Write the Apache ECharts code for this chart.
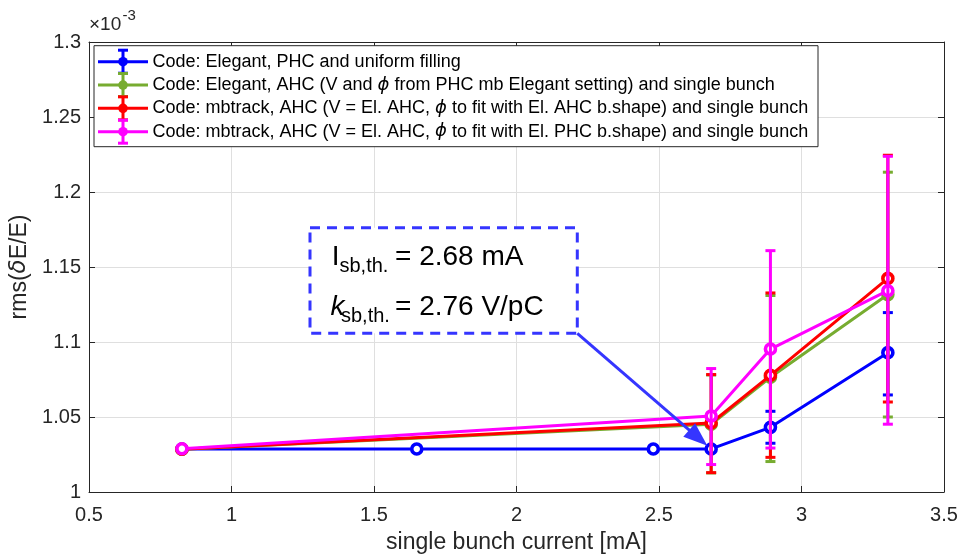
<!DOCTYPE html>
<html>
<head>
<meta charset="utf-8">
<script src="https://cdn.jsdelivr.net/npm/echarts@6/dist/echarts.min.js"></script>
<style>html,body{margin:0;padding:0;background:#fff}#c{width:966px;height:559px}</style>
</head>
<body>
<div id="c"></div>
<script>
// ---- data ----
const xTickLabels = ['0.5', '1', '1.5', '2', '2.5', '3', '3.5'];
const yTickLabels = ['1', '1.05', '1.1', '1.15', '1.2', '1.25', '1.3'];

const blueX = [0.826, 1.65, 2.48, 2.683, 2.891, 3.303];
const blueY = [1.0287, 1.0287, 1.0287, 1.0287, 1.0431, 1.0929];
const blueLow = [null, null, null, null, 1.0325, 1.0647];
const blueHigh = [null, null, null, null, 1.0538, 1.1196];

const otherX = [0.826, 2.683, 2.891, 3.303];
const greenY = [1.0285, 1.0452, 1.0765, 1.1316];
const greenLow = [null, 1.0127, 1.0203, 1.0500];
const greenHigh = [null, 1.0780, 1.1310, 1.2132];

const redY = [1.0285, 1.0460, 1.0778, 1.1424];
const redLow = [null, 1.0129, 1.0231, 1.0600];
const redHigh = [null, 1.0783, 1.1327, 1.2245];

const magentaY = [1.0288, 1.0507, 1.0953, 1.1342];
const magentaLow = [null, 1.0183, 1.0293, 1.0452];
const magentaHigh = [null, 1.0823, 1.1609, 1.2238];

const seriesNames = [
  'Code: Elegant, PHC and uniform filling',
  'Code: Elegant, AHC (V and ϕ from PHC mb Elegant setting) and single bunch',
  'Code: mbtrack, AHC (V = El. AHC, ϕ to fit with El. AHC b.shape) and single bunch',
  'Code: mbtrack, AHC (V = El. AHC, ϕ to fit with El. PHC b.shape) and single bunch'
];
const thresholdCurrent = 2.68;
const thresholdK = 2.76;

// ---- styling ----
const FONT = '"Liberation Sans", Arial, Helvetica, sans-serif';
const AX = '#262626';
const colors = ['#0000ff', '#77ac30', '#ff0000', '#ff00ff'];

const groups = [
  {x: blueX, y: blueY, lo: blueLow, hi: blueHigh},
  {x: otherX, y: greenY, lo: greenLow, hi: greenHigh},
  {x: otherX, y: redY, lo: redLow, hi: redHigh},
  {x: otherX, y: magentaY, lo: magentaLow, hi: magentaHigh}
];

function errRender(color) {
  return function (params, api) {
    const x = api.value(0), lo = api.value(1), hi = api.value(2);
    const pTop = api.coord([x, hi]);
    const pBot = api.coord([x, lo]);
    const cw = 5;
    const st = {stroke: color, lineWidth: 3};
    return {
      type: 'group',
      children: [
        {type: 'line', shape: {x1: pTop[0], y1: pTop[1], x2: pBot[0], y2: pBot[1]}, style: st},
        {type: 'line', shape: {x1: pTop[0] - cw, y1: pTop[1], x2: pTop[0] + cw, y2: pTop[1]}, style: st},
        {type: 'line', shape: {x1: pBot[0] - cw, y1: pBot[1], x2: pBot[0] + cw, y2: pBot[1]}, style: st}
      ]
    };
  };
}

const series = [];
groups.forEach((g, i) => {
  series.push({
    type: 'line', name: seriesNames[i],
    data: g.x.map((xv, k) => [xv, g.y[k]]),
    symbol: 'circle', symbolSize: 10,
    lineStyle: {color: colors[i], width: 3},
    itemStyle: {color: '#ffffff', borderColor: colors[i], borderWidth: 3.6},
    z: 2 + i * 2
  });
  const ed = [];
  g.x.forEach((xv, k) => { if (g.lo[k] != null) ed.push([xv, g.lo[k], g.hi[k]]); });
  series.push({
    type: 'custom', name: 'err' + i, data: ed,
    renderItem: errRender(colors[i]),
    encode: {x: 0, y: [1, 2]},
    z: 3 + i * 2
  });
});

const chart = echarts.init(document.getElementById('c'), null, {renderer: 'canvas'});

const xMin = parseFloat(xTickLabels[0]), xMax = parseFloat(xTickLabels[xTickLabels.length - 1]);
const yMin = parseFloat(yTickLabels[0]), yMax = parseFloat(yTickLabels[yTickLabels.length - 1]);

const baseAxisLine = {show: true, lineStyle: {color: AX, width: 1}};
chart.setOption({
  animation: false,
  backgroundColor: '#fff',
  grid: {left: 88, right: 22, top: 42, bottom: 67, containLabel: false},
  xAxis: [{
    type: 'value', min: xMin, max: xMax, interval: 0.5,
    axisLine: baseAxisLine,
    axisTick: {show: true, inside: true, length: 6, lineStyle: {color: AX}},
    axisLabel: {color: AX, fontSize: 20, fontFamily: FONT, margin: 13,
      formatter: v => String(+v.toFixed(2))},
    splitLine: {show: true, lineStyle: {color: '#dfdfdf', width: 1}},
    name: 'single bunch current [mA]', nameLocation: 'middle', nameGap: 39,
    nameTextStyle: {color: AX, fontSize: 23, fontFamily: FONT}
  }, {
    type: 'value', position: 'top', min: xMin, max: xMax, interval: 0.5,
    axisLine: baseAxisLine,
    axisTick: {show: true, inside: true, length: 6, lineStyle: {color: AX}},
    axisLabel: {show: false}, splitLine: {show: false}
  }],
  yAxis: [{
    type: 'value', min: yMin, max: yMax, interval: 0.05,
    axisLine: baseAxisLine,
    axisTick: {show: true, inside: true, length: 6, lineStyle: {color: AX}},
    axisLabel: {color: AX, fontSize: 20, fontFamily: FONT, margin: 8,
      formatter: v => String(+v.toFixed(2))},
    splitLine: {show: true, lineStyle: {color: '#dfdfdf', width: 1}},
    name: 'rms({d|δ}E/E)', nameLocation: 'middle', nameGap: 58, nameRotate: 90,
    nameTextStyle: {color: AX, fontSize: 23, fontFamily: FONT,
      rich: {d: {fontSize: 23, fontStyle: 'italic', color: AX, fontFamily: '"DejaVu Sans", ' + FONT}}}
  }, {
    type: 'value', position: 'right', min: yMin, max: yMax, interval: 0.05,
    axisLine: baseAxisLine,
    axisTick: {show: true, inside: true, length: 6, lineStyle: {color: AX}},
    axisLabel: {show: false}, splitLine: {show: false}
  }],
  series: series
});

// ---- legend, annotation, exponent label drawn as graphics ----
const graphics = [];
function txt(x, yMid, s, size, italic, z, extra) {
  const style = Object.assign({text: s, fontSize: size, fontFamily: FONT,
    fontStyle: italic ? 'italic' : 'normal', fill: '#000',
    verticalAlign: 'middle', align: 'left'}, extra || {});
  graphics.push({type: 'text', x: x, y: yMid, z: z, style: style});
}
// exponent
txt(89, 24.5, '×10', 19, false, 100, {fill: AX});
txt(122.5, 16, '-3', 15, false, 100, {fill: AX});

// legend box
const lgX = 94, lgY = 45.7, lgW = 724, lgH = 101, rowH = 23.33, row0 = 61.7;
graphics.push({type: 'rect', shape: {x: lgX, y: lgY, width: lgW, height: lgH},
  style: {fill: '#fff', stroke: AX, lineWidth: 1}, z: 100});
seriesNames.forEach((nm, i) => {
  const cy = row0 + i * rowH, c = colors[i], st = {stroke: c, lineWidth: 3};
  graphics.push({type: 'line', shape: {x1: 98, y1: cy, x2: 148, y2: cy}, style: st, z: 101});
  graphics.push({type: 'line', shape: {x1: 123, y1: cy - 11.5, x2: 123, y2: cy + 11.5}, style: st, z: 101});
  graphics.push({type: 'line', shape: {x1: 118, y1: cy - 11.5, x2: 128, y2: cy - 11.5}, style: st, z: 101});
  graphics.push({type: 'line', shape: {x1: 118, y1: cy + 11.5, x2: 128, y2: cy + 11.5}, style: st, z: 101});
  graphics.push({type: 'circle', shape: {cx: 123, cy: cy, r: 4.8}, style: {fill: c}, z: 101});
  txt(152.5, cy, nm.replace('ϕ', '{i|ϕ}'), 18, false, 101,
    {rich: {i: {fontStyle: 'italic', fontSize: 18, fontFamily: '"DejaVu Sans", ' + FONT, fill: '#000'}}});
});

// annotation box
const bx = 310, by = 227.7, bw = 267.3, bh = 105.6;
const ABLUE = '#3535ff';
graphics.push({type: 'rect', shape: {x: bx, y: by, width: bw, height: bh},
  style: {fill: '#fff', stroke: ABLUE, lineWidth: 3, lineDash: [10, 7]}, z: 90});
function btxt(x, yBase, s, size, italic) { txt(x, yBase - 0.35 * size, s, size, italic, 91); }
btxt(331.7, 266.7, 'I', 28, false);
btxt(339.5, 273.3, 'sb,th.', 20, false);
btxt(395, 266.7, '= ' + thresholdCurrent.toFixed(2) + ' mA', 28, false);
btxt(330.5, 316.7, 'k', 28, true);
btxt(341, 323.3, 'sb,th.', 20, false);
btxt(395, 316.7, '= ' + thresholdK.toFixed(2) + ' V/pC', 28, false);

// arrow from box corner to the threshold point
const tgt = chart.convertToPixel({xAxisIndex: 0, yAxisIndex: 0}, [blueX[3], blueY[3]]);
const sx = bx + bw, sy = by + bh;
let dx = tgt[0] - sx, dy = tgt[1] - sy;
const L = Math.sqrt(dx * dx + dy * dy); dx /= L; dy /= L;
const tip = [tgt[0] - dx * 5, tgt[1] - dy * 5];
const headLen = 24, headW = 9;
const base = [tip[0] - dx * headLen, tip[1] - dy * headLen];
graphics.push({type: 'line', shape: {x1: sx, y1: sy, x2: base[0] + dx * 2, y2: base[1] + dy * 2},
  style: {stroke: ABLUE, lineWidth: 3}, z: 92});
graphics.push({type: 'polygon', shape: {points: [
  tip,
  [base[0] - dy * headW, base[1] + dx * headW],
  [base[0] + dy * headW, base[1] - dx * headW]
]}, style: {fill: ABLUE}, z: 92});

chart.setOption({graphic: graphics});
</script>
</body>
</html>
